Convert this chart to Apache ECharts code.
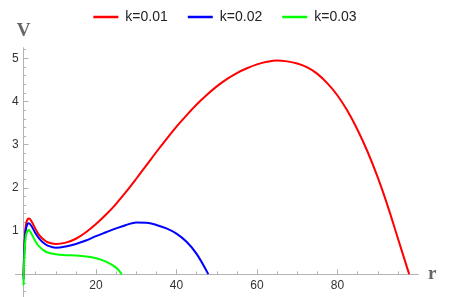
<!DOCTYPE html>
<html><head><meta charset="utf-8">
<script src="https://cdn.jsdelivr.net/npm/echarts@6/dist/echarts.min.js"></script>
<style>html,body{margin:0;padding:0;background:#fff}#c{width:450px;height:297px}</style>
</head><body><div id="c"></div>
<script>
const seriesNames = ['k=0.01', 'k=0.02', 'k=0.03'];
const seriesColors = ['#ff0000', '#0000ff', '#00ff00'];

const rK1 = [2.0, 2.1, 2.3, 2.6, 3.0, 3.4, 4.0, 5.0, 6.0, 7.0, 8.0, 10, 12.5, 15, 17.5, 20, 22.5, 25, 27.5, 30, 32.5, 35, 37.5, 40, 42.5, 45, 47.5, 50, 52.5, 55, 57.5, 60, 62.5, 65, 67.5, 70, 72.5, 75, 77.5, 80, 82.5, 85, 87.5, 90, 92.5, 95, 97.8];
const vK1 = [-0.05, 0.35, 0.85, 1.15, 1.27, 1.29, 1.22, 1.04, 0.89, 0.80, 0.74, 0.70, 0.73, 0.82, 0.97, 1.16, 1.38, 1.63, 1.91, 2.21, 2.52, 2.83, 3.13, 3.42, 3.68, 3.93, 4.15, 4.35, 4.52, 4.66, 4.77, 4.86, 4.92, 4.95, 4.93, 4.88, 4.79, 4.64, 4.42, 4.14, 3.78, 3.34, 2.83, 2.24, 1.57, 0.83, 0];

const rK2 = [2.0, 2.1, 2.3, 2.6, 3.0, 3.3, 4.0, 5.0, 6.0, 7.0, 8.0, 10, 12.5, 15, 17.5, 20, 22.5, 25, 27.5, 30, 32.5, 35, 37.5, 40, 42.5, 45, 47.9];
const vK2 = [-0.12, 0.30, 0.75, 1.05, 1.16, 1.18, 1.11, 0.94, 0.81, 0.72, 0.66, 0.61, 0.64, 0.70, 0.78, 0.88, 0.97, 1.06, 1.14, 1.195, 1.19, 1.14, 1.06, 0.94, 0.75, 0.47, 0];

const rK3 = [2.0, 2.1, 2.3, 2.6, 3.0, 3.3, 4.0, 5.0, 6.0, 7.0, 8.0, 10, 12.5, 15, 17.5, 20, 22.5, 25, 26.4];
const vK3 = [-0.26, 0.15, 0.60, 0.90, 1.00, 1.02, 0.93, 0.75, 0.63, 0.55, 0.50, 0.46, 0.44, 0.43, 0.41, 0.37, 0.29, 0.15, 0];

const xMajorTicks = [20, 40, 60, 80];
const xMinorTicks = [5, 10, 15, 25, 30, 35, 45, 50, 55, 65, 70, 75, 85, 90, 95];
const yMajorTicks = [1, 2, 3, 4, 5];
const yMinorTicks = [-0.4, -0.2, 0.2, 0.4, 0.6, 0.8, 1.2, 1.4, 1.6, 1.8, 2.2, 2.4, 2.6, 2.8, 3.2, 3.4, 3.6, 3.8, 4.2, 4.4, 4.6, 4.8, 5.2];

const axisColor = '#b3b3b3';
const nameStyle = {fontFamily: 'Liberation Serif', fontWeight: 'bold', fontSize: 19, color: '#666666'};
const labelStyle = {fontFamily: 'Liberation Sans', fontSize: 12, color: '#333333'};

function pairs(rs, vs) { return rs.map((r, i) => [r, vs[i]]); }
const allData = [pairs(rK1, vK1), pairs(rK2, vK2), pairs(rK3, vK3)];

const xBase = {
  type: 'value', min: 0, max: 100, position: 'bottom',
  axisLine: {show: true, onZero: true, lineStyle: {color: axisColor, width: 1}},
  splitLine: {show: false}
};
const yBase = {
  type: 'value', min: -0.53, max: 5.24, position: 'left', offset: -8.05,
  axisLine: {show: true, onZero: false, lineStyle: {color: axisColor, width: 1}},
  splitLine: {show: false}
};

const chart = echarts.init(document.getElementById('c'), null, {renderer: 'canvas'});
chart.setOption({
  animation: false,
  backgroundColor: '#ffffff',
  legend: {
    data: seriesNames, top: 5, left: 'center',
    icon: 'rect', itemWidth: 25, itemHeight: 2.5, itemGap: 20,
    textStyle: {fontFamily: 'Liberation Sans', fontSize: 14, color: '#222222', padding: [0, 0, 0, 2]}
  },
  grid: {left: 15.5, right: 32, top: 48, bottom: 0, containLabel: false, outerBoundsMode: 'none'},
  xAxis: [
    Object.assign({}, xBase, {
      name: 'r', nameLocation: 'end', nameGap: 10, nameTextStyle: nameStyle,
      axisTick: {show: true, inside: true, length: 5, customValues: xMajorTicks, lineStyle: {color: axisColor}},
      axisLabel: {show: true, margin: -17.5, customValues: xMajorTicks, ...labelStyle}
    }),
    Object.assign({}, xBase, {
      axisTick: {show: true, inside: true, length: 2.7, customValues: xMinorTicks, lineStyle: {color: axisColor}},
      axisLabel: {show: false}
    })
  ],
  yAxis: [
    Object.assign({}, yBase, {
      name: 'V', nameLocation: 'end', nameGap: 7, nameTextStyle: nameStyle,
      axisTick: {show: true, inside: true, length: 5, customValues: yMajorTicks, lineStyle: {color: axisColor}},
      axisLabel: {show: true, margin: 5, customValues: yMajorTicks, ...labelStyle}
    }),
    Object.assign({}, yBase, {
      axisTick: {show: true, inside: true, length: 2.7, customValues: yMinorTicks, lineStyle: {color: axisColor}},
      axisLabel: {show: false}
    })
  ],
  series: seriesNames.map((n, i) => ({
    name: n, type: 'line', xAxisIndex: 0, yAxisIndex: 0,
    data: allData[i], showSymbol: false, symbol: 'none',
    smooth: 0.35,
    lineStyle: {color: seriesColors[i], width: 2},
    itemStyle: {color: seriesColors[i]}
  }))
});
</script></body></html>
